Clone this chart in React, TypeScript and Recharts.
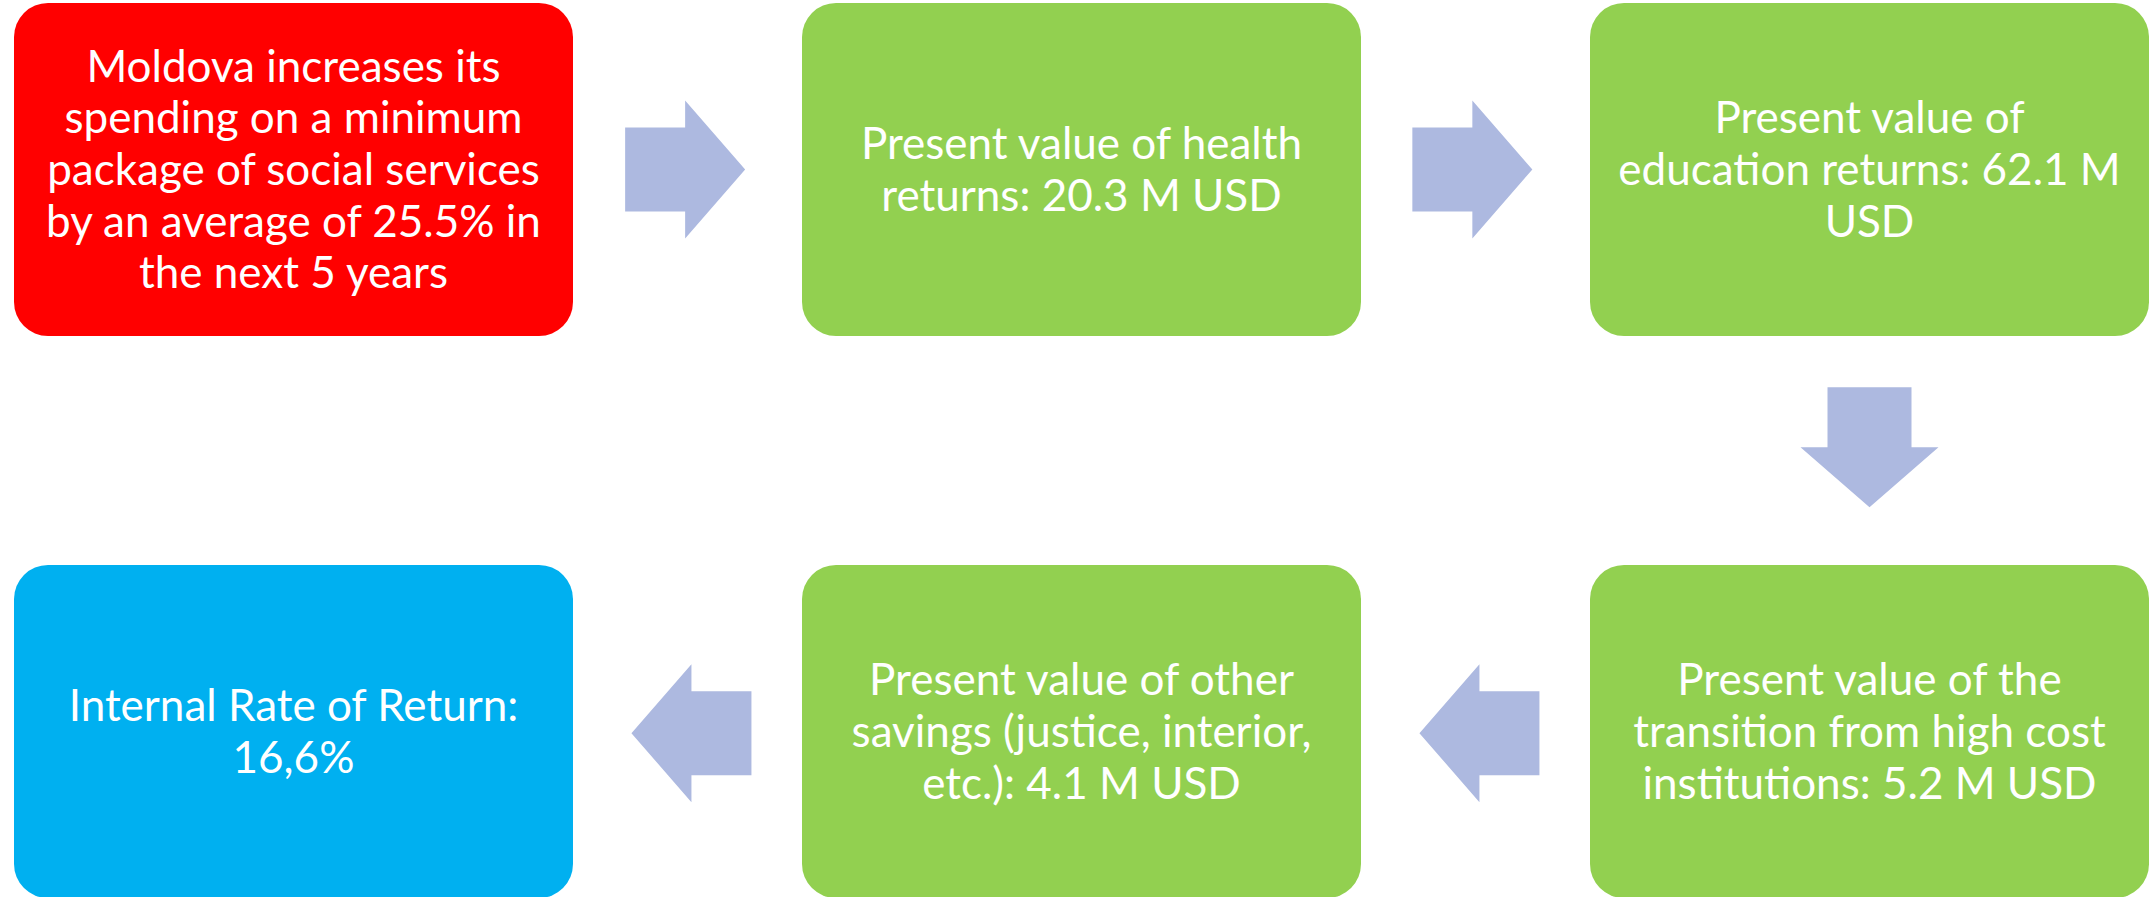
import { ScatterChart, Scatter, XAxis, YAxis } from "recharts";

// Flow diagram drawn on a scatter grid: boxes sit on (col,row) cells,
// arrows sit between them. Pixel mapping comes from the axis domains.

const boxLines: string[][] = [
  ["Moldova increases its", "spending on a minimum", "package of social services", "by an average of 25.5% in", "the next 5 years"],
  ["Present value of health", "returns: 20.3 M USD"],
  ["Present value of", "education returns: 62.1 M", "USD"],
  ["Present value of the", "transition from high cost", "institutions: 5.2 M USD"],
  ["Present value of other", "savings (justice, interior,", "etc.): 4.1 M USD"],
  ["Internal Rate of Return:", "16,6%"],
];
const boxCols = [0, 1, 2, 2, 1, 0];
const boxRows = [0, 0, 0, 1, 1, 1];
const boxKinds = ["start", "step", "step", "step", "step", "result"];

const arrowCols = [0.497, 1.496, 2, 1.505, 0.505];
const arrowRows = [0, 0, 0.494, 1.003, 1.003];
const arrowDirs = ["right", "right", "down", "left", "left"];

const kindColor: Record<string, string> = {
  start: "#FF0000",
  step: "#92D050",
  result: "#00B0F0",
};

const boxData = boxLines.map((lines, i) => ({
  col: boxCols[i],
  row: boxRows[i],
  kind: boxKinds[i],
  lines,
}));

const arrowData = arrowDirs.map((dir, i) => ({
  col: arrowCols[i],
  row: arrowRows[i],
  dir,
}));

const BOX_W = 559;
const BOX_H = 333;
const LINE_H = 51.7;

function BoxShape(props: any) {
  const { cx, cy, payload } = props;
  const n = payload.lines.length;
  return (
    <g>
      <rect
        x={cx - BOX_W / 2}
        y={cy - BOX_H / 2}
        width={BOX_W}
        height={BOX_H}
        rx={34}
        ry={34}
        fill={kindColor[payload.kind]}
      />
      <text
        textAnchor="middle"
        fill="#fff"
        fontFamily="Lato, 'Open Sans', sans-serif"
        fontSize={44}
      >
        {payload.lines.map((l: string, i: number) => (
          <tspan key={i} x={cx} y={cy + 15.5 + (i - (n - 1) / 2) * LINE_H}>
            {l}
          </tspan>
        ))}
      </text>
    </g>
  );
}

function ArrowShape(props: any) {
  const { cx, cy, payload } = props;
  // arrow pointing right, then rotated
  const pts = [
    [-60, -42],
    [0, -42],
    [0, -69],
    [60, 0],
    [0, 69],
    [0, 42],
    [-60, 42],
  ];
  const rot = payload.dir === "down" ? 90 : payload.dir === "left" ? 180 : 0;
  return (
    <polygon
      points={pts.map((p) => p.join(",")).join(" ")}
      transform={`translate(${cx},${cy}) rotate(${rot})`}
      fill="#ADB9E0"
    />
  );
}

export default function App() {
  return (
    <div style={{ position: "absolute", left: 0, top: 0, background: "#fff" }}>
      <ScatterChart
        width={2149}
        height={897}
        margin={{ top: 0, right: 0, bottom: 0, left: 0 }}
      >
        <XAxis
          type="number"
          dataKey="col"
          domain={[-0.372462, 2.354695]}
          allowDataOverflow
          hide
        />
        <YAxis
          type="number"
          dataKey="row"
          domain={[-0.3016, 1.29448]}
          reversed
          allowDataOverflow
          hide
        />
        <Scatter data={boxData} shape={BoxShape} isAnimationActive={false} />
        <Scatter data={arrowData} shape={ArrowShape} isAnimationActive={false} />
      </ScatterChart>
    </div>
  );
}
